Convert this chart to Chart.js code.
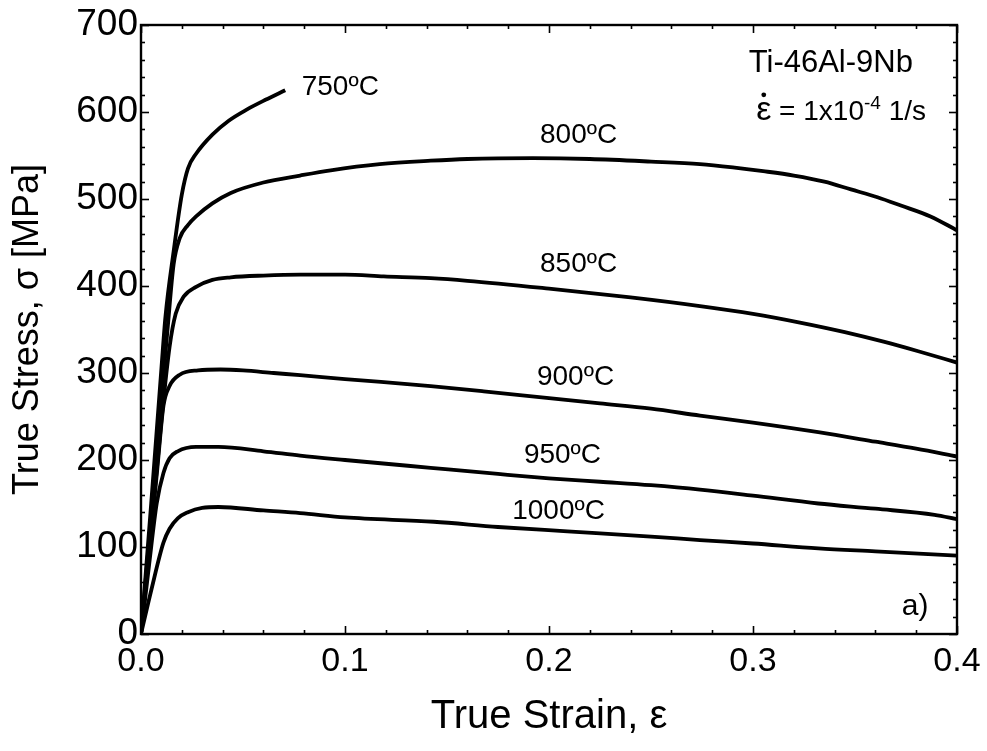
<!DOCTYPE html>
<html>
<head>
<meta charset="utf-8">
<script src="https://cdn.jsdelivr.net/npm/chart.js@4.4.1/dist/chart.umd.min.js"></script>
<style>
    html, body { margin: 0; padding: 0; background: #fff; }
    #wrap { width: 987px; height: 751px; }
</style>
</head>
<body>
<div id="wrap"><canvas id="stressStrainChart" width="987" height="751"></canvas></div>
<script>
// True stress-strain curves, Ti-46Al-9Nb, strain rate 1e-4 1/s
const strain750 = [0, 0.005, 0.010, 0.012, 0.016, 0.020, 0.023, 0.027, 0.035, 0.043, 0.052, 0.061, 0.0707];
const stress750 = [0, 150, 305, 365, 440, 505, 535, 552, 574, 590, 603, 614, 625];

const strain800 = [0, 0.005, 0.010, 0.013, 0.016, 0.019, 0.023, 0.027, 0.035, 0.044, 0.060, 0.078, 0.093, 0.117, 0.142, 0.160, 0.192, 0.220, 0.250, 0.274, 0.291, 0.305, 0.320, 0.335, 0.348, 0.361, 0.3725, 0.387, 0.400];
const stress800 = [0, 135, 270, 350, 425, 455, 470, 480, 495, 507, 519, 527, 533, 540, 544, 546, 547, 546, 543, 540, 536, 532, 527, 520, 511, 502, 492.5, 480, 464];

const strain850 = [0, 0.005, 0.010, 0.014, 0.017, 0.021, 0.027, 0.035, 0.044, 0.060, 0.078, 0.100, 0.119, 0.142, 0.160, 0.200, 0.240, 0.274, 0.300, 0.323, 0.345, 0.364, 0.381, 0.400];
const stress850 = [0, 120, 245, 330, 368, 388, 399, 407, 410, 412, 413, 413, 411, 409, 406, 397, 387, 377, 368, 358, 347, 336, 325, 312];

const strain900 = [0, 0.004, 0.008, 0.011, 0.014, 0.019, 0.028, 0.039, 0.050, 0.065, 0.078, 0.100, 0.142, 0.168, 0.200, 0.225, 0.250, 0.274, 0.300, 0.332, 0.360, 0.380, 0.400];
const stress900 = [0, 95, 190, 262, 285, 298, 303, 304, 303, 300, 297.5, 293, 285, 279, 271, 265, 259, 251, 243, 232, 221, 213, 204];

const strain950 = [0, 0.004, 0.0077, 0.011, 0.014, 0.018, 0.027, 0.038, 0.060, 0.078, 0.100, 0.142, 0.175, 0.200, 0.225, 0.250, 0.274, 0.300, 0.332, 0.360, 0.389, 0.400];
const stress950 = [0, 80, 150, 185, 202, 210, 215, 215, 210, 205, 200, 191, 184, 179, 175, 171, 166, 159, 150, 144, 137, 132];

const strain1000 = [0, 0.005, 0.011, 0.014, 0.018, 0.023, 0.030, 0.038, 0.060, 0.078, 0.100, 0.1435, 0.175, 0.209, 0.250, 0.274, 0.300, 0.332, 0.360, 0.400];
const stress1000 = [0, 50, 105, 121, 133, 140, 145, 146, 142, 139, 134, 129, 123, 118, 112, 108, 104, 98.5, 95, 90];

const temperatures = ['750ºC', '800ºC', '850ºC', '900ºC', '950ºC', '1000ºC'];
const strainTicks = [0, 0.1, 0.2, 0.3, 0.4];
const stressTicks = [0, 100, 200, 300, 400, 500, 600, 700];

const curves = [
    [strain750, stress750], [strain800, stress800], [strain850, stress850],
    [strain900, stress900], [strain950, stress950], [strain1000, stress1000]
];

// where each temperature label sits, in data units (centre, baseline)
const labelSpots = [
    {x: 0.0977, y: 619}, {x: 0.2145, y: 564}, {x: 0.2145, y: 416},
    {x: 0.213, y: 286}, {x: 0.2066, y: 196}, {x: 0.2047, y: 132}
];

const FONT = '"Liberation Sans", Arial, sans-serif';

const toPoints = (xs, ys) => xs.map((x, i) => ({x, y: ys[i]}));

// box frame plus inward major/minor ticks on all four sides
const frameTicks = {
    id: 'frameTicks',
    afterDraw(chart) {
        const {ctx, chartArea: a, scales: {x, y}} = chart;
        ctx.save();
        ctx.strokeStyle = '#000';
        ctx.lineWidth = 1.6;
        const mark = (x1, y1, x2, y2) => {
            ctx.beginPath();
            ctx.moveTo(x1, y1);
            ctx.lineTo(x2, y2);
            ctx.stroke();
        };
        for (let i = 0; i <= 20; i++) {
            const px = Math.round(x.getPixelForValue(i * 0.02)) + 0.5;
            const len = i % 5 === 0 ? 8 : 4;
            mark(px, a.bottom, px, a.bottom - len);
            mark(px, a.top, px, a.top + len);
        }
        for (let i = 0; i <= 35; i++) {
            const py = Math.round(y.getPixelForValue(i * 20)) + 0.5;
            const len = i % 5 === 0 ? 8 : 4;
            mark(a.left, py, a.left + len, py);
            mark(a.right, py, a.right - len, py);
        }
        ctx.lineWidth = 2.4;
        ctx.strokeRect(a.left, a.top, a.right - a.left, a.bottom - a.top);
        ctx.restore();
    }
};

const annotations = {
    id: 'annotations',
    afterDraw(chart) {
        const {ctx, scales: {x, y}} = chart;
        ctx.save();
        ctx.fillStyle = '#000';
        ctx.textBaseline = 'alphabetic';

        ctx.font = '28px ' + FONT;
        ctx.textAlign = 'center';
        temperatures.forEach((t, i) => {
            ctx.fillText(t, x.getPixelForValue(labelSpots[i].x), y.getPixelForValue(labelSpots[i].y));
        });

        // alloy and strain rate, top right
        ctx.textAlign = 'right';
        ctx.font = '31px ' + FONT;
        ctx.fillText('Ti-46Al-9Nb', x.getPixelForValue(0.3784), y.getPixelForValue(646));

        const right = x.getPixelForValue(0.3848);
        const base = y.getPixelForValue(591);
        const parts = [
            {t: 'ε', size: 34, rise: 0},
            {t: ' = 1x10', size: 28, rise: 0},
            {t: '-4', size: 19, rise: 11},
            {t: ' 1/s', size: 28, rise: 0}
        ];
        ctx.textAlign = 'left';
        let width = 0;
        parts.forEach(p => {
            ctx.font = p.size + 'px ' + FONT;
            p.w = ctx.measureText(p.t).width;
            width += p.w;
        });
        let cx = right - width;
        parts.forEach((p, i) => {
            ctx.font = p.size + 'px ' + FONT;
            ctx.fillText(p.t, cx, base - p.rise);
            if (i === 0) {
                ctx.beginPath();
                ctx.arc(cx + p.w / 2, base - 25, 2.4, 0, Math.PI * 2);
                ctx.fill();
            }
            cx += p.w;
        });

        ctx.font = '30px ' + FONT;
        ctx.textAlign = 'right';
        ctx.fillText('a)', x.getPixelForValue(0.386), y.getPixelForValue(22));
        ctx.restore();
    }
};

new Chart(document.getElementById('stressStrainChart'), {
    type: 'scatter',
    data: {
        datasets: curves.map((c, i) => ({
            label: temperatures[i],
            data: toPoints(c[0], c[1]),
            showLine: true,
            borderColor: '#000',
            borderWidth: 3.8,
            pointRadius: 0,
            cubicInterpolationMode: 'monotone',
            fill: false
        }))
    },
    options: {
        responsive: false,
        animation: false,
        layout: {padding: {top: 25, right: 30, left: 0, bottom: 0}},
        plugins: {legend: {display: false}, tooltip: {enabled: false}},
        scales: {
            x: {
                type: 'linear',
                min: 0,
                max: 0.4,
                afterBuildTicks: s => { s.ticks = strainTicks.map(v => ({value: v})); },
                afterFit: s => {
                    s.height = 117;
                    s.paddingLeft = 0;
                    s.paddingRight = 0;
                },
                ticks: {
                    color: '#000',
                    padding: 11,
                    font: {family: FONT, size: 34, lineHeight: 1},
                    callback: v => v.toFixed(1)
                },
                grid: {display: false, drawTicks: false},
                border: {display: false},
                title: {
                    display: true,
                    text: 'True Strain, ε',
                    color: '#000',
                    font: {family: FONT, size: 40, lineHeight: 1},
                    padding: {bottom: 14}
                }
            },
            y: {
                type: 'linear',
                min: 0,
                max: 700,
                afterBuildTicks: s => { s.ticks = stressTicks.map(v => ({value: v})); },
                afterFit: s => {
                    s.width = 141;
                    s.paddingTop = 0;
                    s.paddingBottom = 0;
                },
                ticks: {
                    color: '#000',
                    padding: 3,
                    font: {family: FONT, size: 37, lineHeight: 1}
                },
                grid: {display: false, drawTicks: false},
                border: {display: false},
                title: {
                    display: true,
                    text: 'True Stress, σ [MPa]',
                    color: '#000',
                    font: {family: FONT, size: 36, lineHeight: 1},
                    padding: {top: 10}
                }
            }
        }
    },
    plugins: [frameTicks, annotations]
});
</script>
</body>
</html>
